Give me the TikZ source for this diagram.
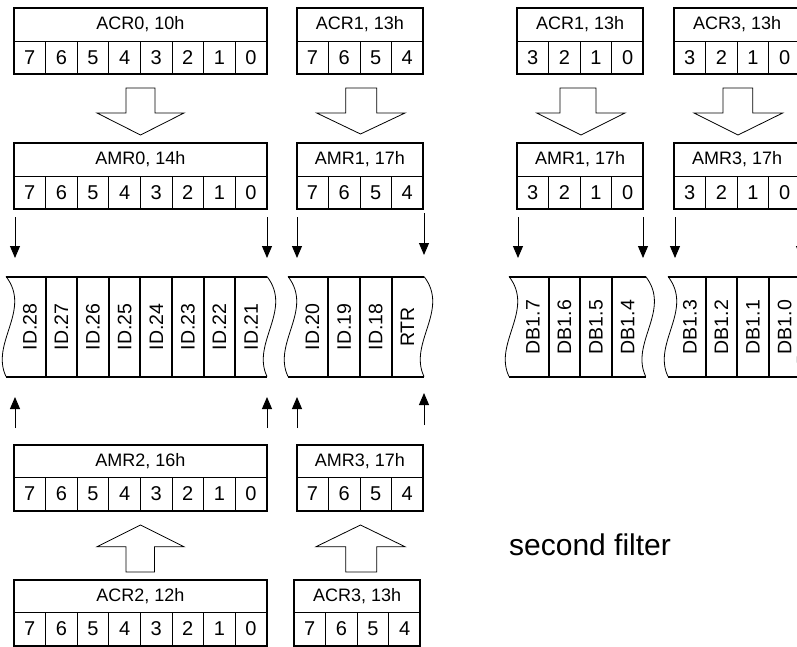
\documentclass[tikz,border=0pt]{standalone}
\usepackage{fontspec}
\setmainfont{Liberation Sans}
\usetikzlibrary{arrows.meta,calc}
\tikzset{
  regtitle/.style={draw, line width=0.8pt, inner sep=0pt, outer sep=0pt, minimum height=33pt,
    font=\fontsize{18}{20}\selectfont, anchor=north west},
  regbit/.style={draw, line width=0.8pt, inner sep=0pt, outer sep=0pt, minimum width=31.6pt,
    minimum height=33pt, font=\fontsize{20}{22}\selectfont, anchor=north west},
  regframe/.style={line width=2pt},
  wave/.style={line width=0.8pt},
  fline/.style={line width=2pt},
  blabel/.style={rotate=90, inner sep=0pt, font=\fontsize{19.5}{22}\selectfont},
  blockarrow/.style={draw, line width=0.8pt, fill=white, line join=miter},
  sarrow/.style={line width=0.9pt, -{Triangle[width=10pt,length=12pt]}},
}
\newcommand{\regbox}[6]{%
  \node[regtitle, minimum width=#4*31.6pt] (#1) at (#2,#3) {#5};
  \foreach \bitv [count=\i] in {#6} {
    \node[regbit] (#1-\i) at ($(#1.south west)+({(\i-1)*31.6pt},0pt)$) {\bitv};
  }
  \draw[regframe] (#1.north west) rectangle ($(#1.south east)+(0pt,-33pt)$);
}
\newcommand{\waveedge}[1]{%
  \draw[wave] (#1,276.5) .. controls ({#1+26},310) and ({#1-16},343) .. (#1,376.5);
}
\begin{document}
\begin{tikzpicture}[x=1pt,y=-1pt]
\clip (0,0) rectangle (797,646);
\fill[white] (0,0) rectangle (797,646);

% ---------- registers ----------
\regbox{acr0}{14}{8}{8}{ACR0, 10h}{7,6,5,4,3,2,1,0}
\regbox{acr1a}{296.7}{8}{4}{ACR1, 13h}{7,6,5,4}
\regbox{acr1b}{517}{8}{4}{ACR1, 13h}{3,2,1,0}
\regbox{acr3a}{674}{8}{4}{ACR3, 13h}{3,2,1,0}

\regbox{amr0}{14}{143}{8}{AMR0, 14h}{7,6,5,4,3,2,1,0}
\regbox{amr1a}{296.7}{143}{4}{AMR1, 17h}{7,6,5,4}
\regbox{amr1b}{517}{143}{4}{AMR1, 17h}{3,2,1,0}
\regbox{amr3a}{674}{143}{4}{AMR3, 17h}{3,2,1,0}

\regbox{amr2}{14}{444.5}{8}{AMR2, 16h}{7,6,5,4,3,2,1,0}
\regbox{amr3b}{296.7}{444.5}{4}{AMR3, 17h}{7,6,5,4}

\regbox{acr2}{14}{579.5}{8}{ACR2, 12h}{7,6,5,4,3,2,1,0}
\regbox{acr3b}{294}{579.5}{4}{ACR3, 13h}{7,6,5,4}

% ---------- block arrows (down) ----------
\draw[blockarrow] (126,88) -- (155,88) -- (155,113) -- (184,113) -- (140.5,135) -- (97,113) -- (126,113) -- cycle;
\draw[blockarrow] (345.7,88) -- (376.7,88) -- (376.7,113) -- (405,113) -- (360.5,134) -- (316.7,113) -- (345.7,113) -- cycle;
\draw[blockarrow] (560,88) -- (596,88) -- (596,113) -- (625,113) -- (581,135) -- (536.7,113) -- (560,113) -- cycle;
\draw[blockarrow] (723,88) -- (752.7,88) -- (752.7,113) -- (782.7,113) -- (738,135) -- (694,113) -- (723,113) -- cycle;

% ---------- block arrows (up) ----------
\draw[blockarrow] (126,572) -- (154.5,572) -- (154.5,546.7) -- (184,546.7) -- (140.5,525) -- (97,546.7) -- (126,546.7) -- cycle;
\draw[blockarrow] (345.7,572) -- (376.7,572) -- (376.7,546.7) -- (405,546.7) -- (360.5,525) -- (316,546.7) -- (345.7,546.7) -- cycle;

% ---------- wavy frames ----------
% ID.28 .. ID.21
\draw[fline] (6,276.5) -- (267,276.5);
\draw[fline] (6,376.5) -- (267,376.5);
\waveedge{6}\waveedge{267}
\foreach \x in {45.6,77.2,108.8,140.4,172,203.6,235.2} \draw[fline] (\x,276.5) -- (\x,376.5);
\foreach \t [count=\i from 0] in {ID.28,ID.27,ID.26,ID.25,ID.24,ID.23,ID.22,ID.21}
  \node[blabel] (ida-\i) at ({29.8+31.6*\i},327) {\t};

% ID.20 .. RTR
\draw[fline] (288,276.5) -- (424,276.5);
\draw[fline] (288,376.5) -- (424,376.5);
\waveedge{288}\waveedge{424}
\foreach \x in {328.3,359.9,391.5} \draw[fline] (\x,276.5) -- (\x,376.5);
\foreach \t [count=\i from 0] in {ID.20,ID.19,ID.18,RTR}
  \node[blabel] (idb-\i) at ({312.5+31.6*\i},327) {\t};

% DB1.7 .. DB1.4
\draw[fline] (509,276.5) -- (645.7,276.5);
\draw[fline] (509,376.5) -- (645.7,376.5);
\waveedge{509}\waveedge{645.7}
\foreach \x in {548.6,580.2,611.8} \draw[fline] (\x,276.5) -- (\x,376.5);
\foreach \t [count=\i from 0] in {DB1.7,DB1.6,DB1.5,DB1.4}
  \node[blabel] (dba-\i) at ({532.8+31.6*\i},327) {\t};

% DB1.3 .. DB1.0
\draw[fline] (668,276.5) -- (801,276.5);
\draw[fline] (668,376.5) -- (801,376.5);
\waveedge{668}\waveedge{801}
\foreach \x in {705.6,737.2,768.8} \draw[fline] (\x,276.5) -- (\x,376.5);
\foreach \t [count=\i from 0] in {DB1.3,DB1.2,DB1.1,DB1.0}
  \node[blabel] (dbb-\i) at ({689.8+31.6*\i},327) {\t};

% ---------- small arrows ----------
\foreach \x [count=\i] in {15,267,297,518,643,675,801} {
  \coordinate (ds\i) at (\x,217);
  \coordinate (de\i) at (\x,258);
  \draw[sarrow] (ds\i) -- (de\i);
}
\coordinate (ds8) at (424,213);
\coordinate (de8) at (424,255);
\draw[sarrow] (ds8) -- (de8);

\foreach \x [count=\i] in {15,267,297} {
  \coordinate (us\i) at (\x,428);
  \coordinate (ue\i) at (\x,397);
  \draw[sarrow] (us\i) -- (ue\i);
}
\coordinate (us4) at (424,425);
\coordinate (ue4) at (424,393);
\draw[sarrow] (us4) -- (ue4);

% ---------- caption ----------
\node[anchor=base west, inner sep=0pt, font=\fontsize{30}{34}\selectfont] (cap) at (509,555) {second filter};
\end{tikzpicture}
\end{document}
